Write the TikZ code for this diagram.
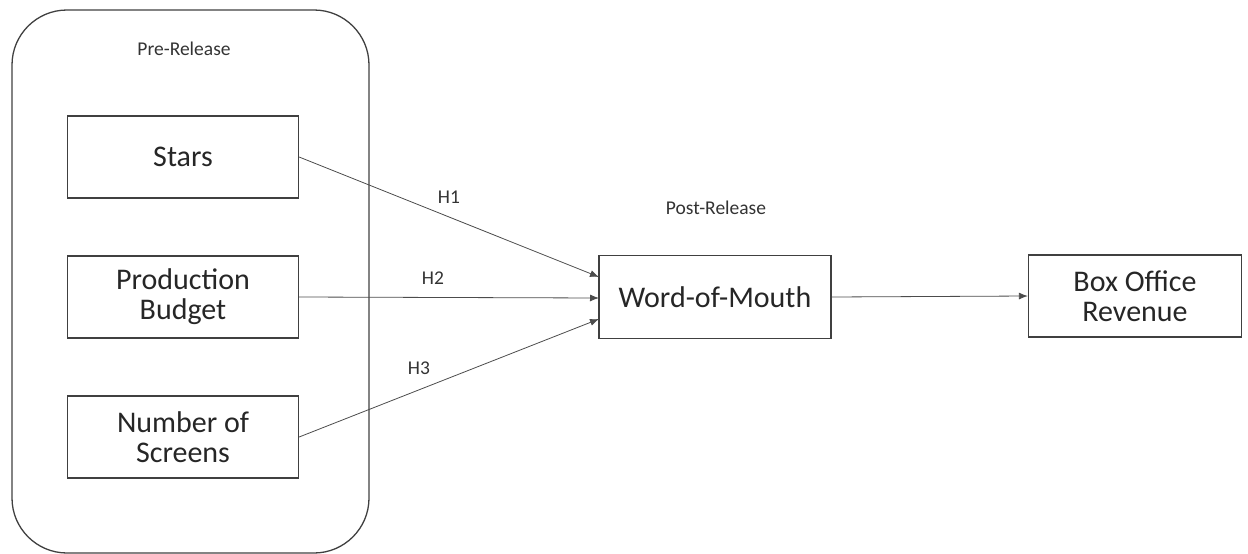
\documentclass[tikz,border=0pt]{standalone}
\usepackage{fontspec}
\setmainfont{Carlito}
\usetikzlibrary{arrows.meta}
\begin{document}
\begin{tikzpicture}[x=1pt,y=-1pt,
  box/.style={draw=black!75,line width=1.3pt,minimum width=231pt,minimum height=82pt,inner sep=0pt,align=center,font=\fontsize{30}{30}\selectfont,text=black!85},
  lbl/.style={font=\fontsize{19.5}{22}\selectfont,text=black!80},
  conn/.style={draw=black!70,line width=0.8pt,-{Latex[length=9pt,width=7pt]}}]
\useasboundingbox (0,0) rectangle (1248,554);
\node[draw=black!75,line width=1.3pt,rounded corners=55pt,minimum width=357pt,minimum height=543pt,inner sep=0pt] (pre) at (190.5,281.5) {};
\node[lbl] (prelbl) at (184,49) {Pre-Release};
\node[box] (stars) at (183,157) {Stars};
\node[box] (budget) at (183,297) {Production\\Budget};
\node[box] (screens) at (183,437) {Number of\\Screens};
\node[box,minimum width=232pt,minimum height=83pt] (wom) at (715,297) {Word-of-Mouth};
\node[box,minimum width=213pt,minimum height=82pt] (box) at (1135,296) {Box Office\\Revenue};
\node[lbl] (post) at (716,208) {Post-Release};
\coordinate (w1) at (599,277);
\coordinate (w2) at (599,298);
\coordinate (w3) at (599,319);
\draw[conn] (stars.east) -- (w1);
\draw[conn] (budget.east) -- (w2);
\draw[conn] (screens.east) -- (w3);
\draw[conn] (wom.east) -- (box.west);
\node[lbl] (h1) at (449,197) {H1};
\node[lbl] (h2) at (433,278) {H2};
\node[lbl] (h3) at (419,368) {H3};
\end{tikzpicture}
\end{document}
